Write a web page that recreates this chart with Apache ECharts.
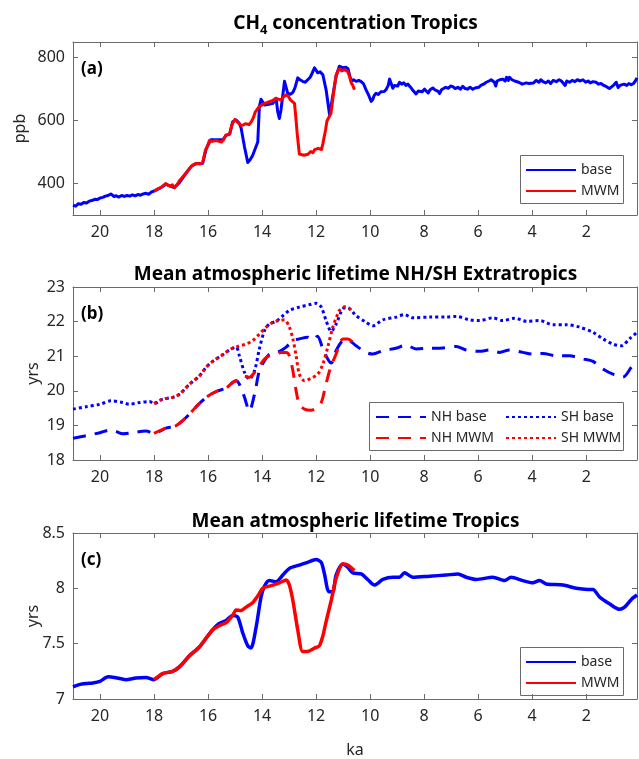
<!DOCTYPE html>
<html>
<head>
<meta charset="utf-8">
<script src="https://cdn.jsdelivr.net/npm/echarts@6/dist/echarts.min.js"></script>
<style>html,body{margin:0;padding:0;background:#fff}#c{width:639px;height:759px}</style>
</head>
<body>
<div id="c"></div>
<script>
// ---- data (ka, value) ----
const xTicks = [20, 18, 16, 14, 12, 10, 8, 6, 4, 2];
const yTicksA = [400, 600, 800];
const ch4Base = [[21.0,331],[20.9,328],[20.8,336],[20.7,334],[20.6,340],[20.5,338],[20.4,344],[20.3,346],[20.2,350],[20.1,349],[20.0,354],[19.9,356],[19.8,360],[19.7,362],[19.6,367],[19.55,363],[19.48,359],[19.4,361],[19.3,357],[19.2,362],[19.1,359],[19.0,362],[18.9,360],[18.8,364],[18.7,361],[18.6,365],[18.5,363],[18.4,367],[18.3,369],[18.2,366],[18.1,373],[18.0,376],[17.75,387],[17.56,398],[17.4,392],[17.25,387],[17.06,403],[16.8,435],[16.63,454],[16.44,464],[16.2,464],[16.07,510],[15.9,539],[15.7,539],[15.46,539],[15.33,553],[15.2,557],[15.09,596],[14.96,602],[14.85,592],[14.78,578],[14.65,516],[14.53,467],[14.45,475],[14.35,489],[14.16,532],[14.1,645],[14.04,668],[13.91,650],[13.75,652],[13.6,655],[13.48,671],[13.42,628],[13.36,607],[13.3,634],[13.17,725],[13.05,687],[12.95,684],[12.86,690],[12.78,705],[12.68,736],[12.6,730],[12.5,725],[12.4,722],[12.31,730],[12.22,738],[12.15,750],[12.06,768],[12.0,760],[11.94,752],[11.85,755],[11.75,746],[11.63,698],[11.5,618],[11.44,612],[11.38,680],[11.26,741],[11.14,773],[11.07,775],[11.0,768],[10.9,770],[10.82,765],[10.77,770],[10.7,725],[10.62,730],[10.52,725],[10.42,728],[10.33,724],[10.25,718],[10.15,698],[10.05,680],[9.96,661],[9.9,668],[9.85,680],[9.78,687],[9.7,683],[9.6,692],[9.55,686],[9.47,693],[9.4,700],[9.33,712],[9.28,732],[9.22,718],[9.16,703],[9.1,712],[9.05,718],[8.98,710],[8.91,722],[8.83,716],[8.75,720],[8.68,712],[8.6,716],[8.52,708],[8.45,700],[8.38,694],[8.3,685],[8.22,694],[8.15,697],[8.07,692],[7.99,700],[7.92,694],[7.85,688],[7.78,698],[7.68,704],[7.6,698],[7.55,702],[7.48,693],[7.43,686],[7.36,698],[7.28,702],[7.2,706],[7.1,703],[7.02,710],[6.94,708],[6.85,702],[6.75,706],[6.66,700],[6.57,709],[6.48,702],[6.4,700],[6.3,706],[6.2,700],[6.12,704],[6.07,699],[5.98,706],[5.9,712],[5.8,716],[5.7,722],[5.6,726],[5.52,730],[5.46,734],[5.4,722],[5.35,710],[5.3,726],[5.2,730],[5.09,732],[5.0,726],[4.95,738],[4.88,728],[4.84,738],[4.75,730],[4.65,726],[4.58,732],[4.5,722],[4.45,728],[4.37,716],[4.3,710],[4.22,720],[4.12,718],[4.05,724],[3.95,720],[3.85,728],[3.75,722],[3.68,730],[3.6,724],[3.5,720],[3.4,726],[3.32,718],[3.22,728],[3.11,724],[3.0,730],[2.92,726],[2.85,732],[2.78,712],[2.72,726],[2.62,722],[2.52,728],[2.42,724],[2.33,730],[2.22,726],[2.12,730],[2.02,722],[1.93,726],[1.85,720],[1.75,724],[1.63,722],[1.55,716],[1.45,718],[1.35,712],[1.25,708],[1.14,702],[1.05,708],[0.97,714],[0.89,722],[0.82,705],[0.75,712],[0.68,708],[0.6,716],[0.5,712],[0.42,718],[0.33,714],[0.25,718],[0.18,726],[0.12,736]];
const ch4Mwm = [[18.0,376],[17.88,382],[17.75,387],[17.65,394],[17.56,400],[17.48,394],[17.4,392],[17.32,396],[17.25,387],[17.15,396],[17.06,409],[16.93,422],[16.8,435],[16.7,446],[16.6,457],[16.5,462],[16.4,464],[16.3,462],[16.2,467],[16.1,505],[16.02,520],[15.95,537],[15.85,534],[15.7,537],[15.6,534],[15.5,532],[15.42,540],[15.35,553],[15.28,550],[15.2,559],[15.1,591],[15.0,604],[14.92,596],[14.85,591],[14.78,585],[14.7,586],[14.62,590],[14.55,591],[14.48,588],[14.4,596],[14.32,610],[14.25,628],[14.18,632],[14.1,645],[14.0,650],[13.9,655],[13.8,658],[13.7,661],[13.6,664],[13.5,671],[13.4,668],[13.3,666],[13.2,676],[13.1,682],[13.02,676],[12.95,666],[12.88,662],[12.8,655],[12.75,610],[12.7,559],[12.62,494],[12.55,488],[12.45,490],[12.38,496],[12.3,493],[12.2,502],[12.12,498],[12.05,508],[12.0,502],[11.92,512],[11.85,514],[11.8,508],[11.75,527],[11.65,570],[11.6,598],[11.55,607],[11.45,623],[11.35,690],[11.26,745],[11.2,756],[11.14,765],[11.05,758],[10.95,762],[10.83,756],[10.76,740],[10.7,720],[10.64,712],[10.58,698]];
const nhBase = [[21.0,18.63],[20.52,18.70],[20.0,18.79],[19.65,18.86],[19.4,18.82],[19.16,18.76],[18.79,18.79],[18.3,18.84],[18.0,18.77],[17.56,18.92],[17.19,18.99],[16.81,19.23],[16.44,19.54],[16.07,19.81],[15.7,19.98],[15.33,20.08],[15.09,20.24],[14.96,20.29],[14.84,20.19],[14.65,19.81],[14.47,19.42],[14.28,19.9],[14.1,20.58],[13.91,20.87],[13.73,21.06],[13.48,21.11],[13.3,21.16],[13.11,21.26],[12.86,21.45],[12.62,21.5],[12.31,21.55],[12.12,21.47],[11.95,21.58],[11.75,21.21],[11.57,20.92],[11.44,20.8],[11.26,21.16],[11.01,21.45],[10.83,21.47],[10.52,21.3],[10.15,21.11],[9.9,21.06],[9.53,21.16],[9.04,21.23],[8.67,21.32],[8.3,21.21],[7.8,21.23],[7.31,21.24],[6.81,21.28],[6.44,21.18],[5.95,21.14],[5.58,21.18],[5.21,21.11],[4.84,21.18],[4.35,21.11],[3.98,21.06],[3.6,21.08],[3.11,21.01],[2.62,21.01],[2.12,20.92],[1.75,20.85],[1.38,20.63],[1.01,20.48],[0.64,20.4],[0.33,20.68],[0.12,20.87]];
const nhMwm = [[18.0,18.77],[17.56,18.92],[17.19,18.99],[16.81,19.23],[16.44,19.54],[16.07,19.81],[15.7,19.98],[15.33,20.08],[15.09,20.24],[14.96,20.29],[14.84,20.4],[14.65,20.42],[14.47,20.39],[14.28,20.53],[14.1,20.72],[13.91,20.92],[13.73,21.01],[13.48,21.06],[13.3,21.11],[13.11,21.11],[12.99,21.01],[12.86,20.58],[12.74,20.0],[12.62,19.61],[12.43,19.47],[12.19,19.44],[12.0,19.5],[11.81,19.66],[11.69,20.0],[11.57,20.39],[11.44,20.72],[11.26,21.06],[11.01,21.5],[10.83,21.5],[10.64,21.4]];
const shBase = [[21.0,19.47],[20.52,19.54],[20.0,19.61],[19.6,19.71],[19.16,19.66],[18.91,19.61],[18.54,19.66],[18.17,19.69],[18.0,19.63],[17.68,19.76],[17.31,19.81],[17.06,19.9],[16.69,20.19],[16.32,20.43],[16.07,20.68],[15.83,20.85],[15.46,21.04],[15.15,21.21],[14.96,21.26],[14.84,21.01],[14.65,20.53],[14.47,20.34],[14.28,20.58],[14.1,21.21],[13.91,21.74],[13.73,21.93],[13.48,22.01],[13.23,22.17],[12.99,22.32],[12.62,22.42],[12.25,22.49],[12.0,22.53],[11.81,22.42],[11.63,22.03],[11.44,21.72],[11.26,21.93],[11.01,22.37],[10.83,22.4],[10.52,22.17],[10.15,21.98],[9.9,21.88],[9.53,22.05],[9.04,22.13],[8.73,22.2],[8.42,22.11],[7.8,22.13],[7.19,22.13],[6.81,22.15],[6.32,22.05],[5.95,22.03],[5.46,22.11],[5.09,22.03],[4.65,22.1],[4.22,22.01],[3.73,22.03],[3.23,21.91],[2.74,21.91],[2.25,21.84],[1.75,21.69],[1.38,21.5],[1.01,21.35],[0.7,21.3],[0.4,21.5],[0.12,21.69]];
const shMwm = [[18.0,19.63],[17.68,19.76],[17.31,19.81],[17.06,19.9],[16.69,20.19],[16.32,20.43],[16.07,20.68],[15.83,20.85],[15.46,21.04],[15.15,21.21],[14.96,21.26],[14.84,21.3],[14.59,21.35],[14.35,21.45],[14.1,21.64],[13.85,21.84],[13.6,21.98],[13.36,22.03],[13.17,22.05],[12.99,21.84],[12.86,21.5],[12.74,21.01],[12.62,20.48],[12.43,20.29],[12.19,20.36],[11.94,20.48],[11.75,20.77],[11.57,21.26],[11.38,21.84],[11.2,22.22],[11.14,22.32],[10.95,22.43],[10.77,22.37],[10.7,22.3]];
const tropBase = [[21.0,7.11],[20.77,7.13],[20.5,7.14],[20.27,7.145],[20.0,7.16],[19.7,7.2],[19.47,7.195],[19.04,7.175],[18.67,7.19],[18.3,7.195],[18.0,7.175],[17.68,7.23],[17.31,7.25],[17.06,7.29],[16.69,7.39],[16.32,7.47],[16.01,7.57],[15.83,7.625],[15.6,7.68],[15.33,7.71],[15.09,7.755],[14.9,7.74],[14.72,7.6],[14.53,7.48],[14.41,7.46],[14.22,7.65],[14.04,7.92],[13.91,8.02],[13.73,8.07],[13.48,8.06],[13.23,8.12],[12.99,8.18],[12.62,8.21],[12.31,8.235],[12.0,8.26],[11.81,8.235],[11.69,8.13],[11.53,7.97],[11.38,7.97],[11.26,8.12],[11.01,8.22],[10.83,8.19],[10.64,8.14],[10.33,8.13],[10.09,8.08],[9.84,8.03],[9.53,8.08],[9.16,8.1],[8.91,8.1],[8.73,8.14],[8.42,8.1],[7.8,8.11],[7.19,8.12],[6.75,8.13],[6.44,8.1],[6.07,8.08],[5.46,8.1],[5.02,8.07],[4.78,8.1],[4.35,8.07],[3.98,8.05],[3.73,8.07],[3.48,8.04],[2.86,8.03],[2.37,8.0],[1.94,7.99],[1.75,7.99],[1.5,7.92],[1.14,7.86],[0.77,7.81],[0.58,7.83],[0.33,7.9],[0.12,7.94]];
const tropMwm = [[18.0,7.175],[17.68,7.23],[17.31,7.25],[17.06,7.29],[16.69,7.39],[16.32,7.47],[16.01,7.57],[15.83,7.625],[15.6,7.66],[15.33,7.69],[15.09,7.755],[14.96,7.805],[14.78,7.8],[14.59,7.83],[14.35,7.87],[14.16,7.93],[13.98,8.0],[13.73,8.02],[13.36,8.05],[13.11,8.075],[12.99,8.03],[12.86,7.89],[12.68,7.625],[12.5,7.43],[12.31,7.43],[12.06,7.46],[11.88,7.48],[11.75,7.57],[11.63,7.7],[11.44,7.89],[11.26,8.09],[11.01,8.22],[10.83,8.21],[10.58,8.16]];

// ---- styling ----
const FONT = 'Noto Sans';
const TXT = '#262626';
const BOX = '#6a6a6a';
const BLUE = '#0000ff', RED = '#ff0000';
const grids = [
  {left: 73, right: 2, top: 42, height: 173},
  {left: 73, right: 2, top: 287, height: 173},
  {left: 73, right: 2, top: 533, height: 172}
];
const yRanges = [
  {min: 300, max: 850, ticks: yTicksA},
  {min: 18, max: 23, interval: 1},
  {min: 7, max: 8.5, interval: 0.5}
];
const yNames = ['ppb', 'yrs', 'yrs'];
const yNameGaps = [45, 32, 32];

const xAxes = [], yAxes = [];
grids.forEach((g, i) => {
  const base = {
    type: 'value', gridIndex: i, min: 0.12, max: 21, inverse: true,
    axisLine: {show: true, lineStyle: {color: BOX, width: 1}},
    splitLine: {show: false},
    axisTick: {show: true, inside: true, length: 5, lineStyle: {color: BOX}, customValues: xTicks},
  };
  xAxes.push(Object.assign({}, base, {
    position: 'bottom',
    axisLabel: {show: true, customValues: xTicks, color: TXT, fontFamily: FONT, fontSize: 16, margin: 9},
    name: i === 2 ? 'ka' : '', nameLocation: 'middle', nameGap: 43, nameMoveOverlap: false,
    nameTextStyle: {color: TXT, fontFamily: FONT, fontSize: 16}
  }));
  xAxes.push(Object.assign({}, base, {position: 'top', axisLabel: {show: false}}));
  const r = yRanges[i];
  const yb = {
    type: 'value', gridIndex: i, min: r.min, max: r.max,
    axisLine: {show: true, lineStyle: {color: BOX, width: 1}},
    splitLine: {show: false},
    axisTick: {show: true, inside: true, length: 5, lineStyle: {color: BOX}}
  };
  if (r.interval) yb.interval = r.interval;
  if (r.ticks) yb.axisTick.customValues = r.ticks;
  const lbl = {show: true, color: TXT, fontFamily: FONT, fontSize: 16, margin: 8};
  if (r.ticks) lbl.customValues = r.ticks;
  yAxes.push(Object.assign({}, yb, {
    position: 'left', axisLabel: lbl,
    name: yNames[i], nameLocation: 'middle', nameGap: yNameGaps[i], nameMoveOverlap: false,
    nameTextStyle: {color: TXT, fontFamily: FONT, fontSize: 16}
  }));
  yAxes.push(Object.assign({}, yb, {position: 'right', axisLabel: {show: false}}));
});

function line(name, data, gi, color, type, w, smooth) {
  return {
    name, type: 'line', data, xAxisIndex: gi * 2, yAxisIndex: gi * 2,
    symbol: 'none', smooth: smooth || false, animation: false,
    lineStyle: {color, width: w || 3.5, type: type || 'solid', cap: 'butt', join: 'round'},
    itemStyle: {color}
  };
}
const DASH = [13, 9], DOT = [3, 3];

const series = [
  line('base', ch4Base, 0, BLUE, 'solid', 3),
  line('MWM', ch4Mwm, 0, RED, 'solid', 3),
  line('NH base', nhBase, 1, BLUE, DASH, 3, 0.3),
  line('SH base', shBase, 1, BLUE, DOT, 3, 0.3),
  line('NH MWM', nhMwm, 1, RED, DASH, 3, 0.3),
  line('SH MWM', shMwm, 1, RED, DOT, 3, 0.3),
  line('base ', tropBase, 2, BLUE, 'solid', 3.5, 0.25),
  line('MWM ', tropMwm, 2, RED, 'solid', 3.5, 0.25)
];

const legStyle = {color: TXT, fontFamily: FONT, fontSize: 14};
function legend(data, left, top) {
  return {data, left, top, orient: 'vertical', itemWidth: 50, itemHeight: 14, itemGap: 7,
    textStyle: legStyle, selectedMode: false, padding: 0,
    itemStyle: {opacity: 0, borderWidth: 0}};
}

const TX = 350.5;
const titleStyle = {color: '#000', fontFamily: FONT, fontSize: 19, fontWeight: 'bold'};
const option = {
  animation: false,
  backgroundColor: '#fff',
  title: [
    {text: '{b|CH}{s|4}{b| concentration Tropics}', left: TX, textAlign: 'center', top: 9,
      textStyle: Object.assign({}, titleStyle, {rich: {
        b: {fontFamily: FONT, fontSize: 19, fontWeight: 'bold', color: '#000', lineHeight: 24, verticalAlign: 'top'},
        s: {fontFamily: FONT, fontSize: 13, fontWeight: 'bold', color: '#000', lineHeight: 24, verticalAlign: 'top', padding: [10, 0, 0, 0]}
      }})},
    {text: 'Mean atmospheric lifetime NH/SH Extratropics', left: TX, textAlign: 'center', top: 260, textStyle: titleStyle},
    {text: 'Mean atmospheric lifetime Tropics', left: TX, textAlign: 'center', top: 507, textStyle: titleStyle}
  ],
  grid: grids,
  xAxis: xAxes,
  yAxis: yAxes,
  legend: [
    legend(['base', 'MWM'], 525, 163),
    legend(['NH base', 'NH MWM'], 375, 410),
    legend(['SH base', 'SH MWM'], 505, 410),
    legend(['base ', 'MWM '], 525, 655)
  ],
  graphic: [
    {type: 'rect', shape: {x: 520.5, y: 155.5, width: 103, height: 48}, style: {fill: '#fff', stroke: BOX, lineWidth: 1}, z: 0},
    {type: 'rect', shape: {x: 369.5, y: 402.5, width: 254, height: 48}, style: {fill: '#fff', stroke: BOX, lineWidth: 1}, z: 0},
    {type: 'rect', shape: {x: 520.5, y: 647.5, width: 103, height: 48}, style: {fill: '#fff', stroke: BOX, lineWidth: 1}, z: 0},
    {type: 'text', left: 81, top: 61, style: {text: '(a)', fontFamily: FONT, fontSize: 17, fontWeight: 'bold', fill: '#000'}},
    {type: 'text', left: 81, top: 306, style: {text: '(b)', fontFamily: FONT, fontSize: 17, fontWeight: 'bold', fill: '#000'}},
    {type: 'text', left: 81, top: 552, style: {text: '(c)', fontFamily: FONT, fontSize: 17, fontWeight: 'bold', fill: '#000'}}
  ],
  series
};
const chart = echarts.init(document.getElementById('c'), null, {renderer: 'canvas'});
chart.setOption(option);
</script>
</body>
</html>
